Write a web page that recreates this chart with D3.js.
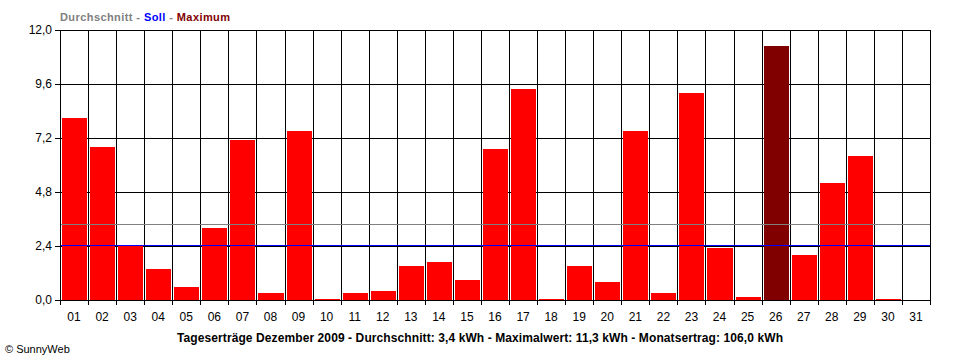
<!DOCTYPE html>
<html><head><meta charset="utf-8">
<script src="https://cdn.jsdelivr.net/npm/d3@7"></script>
<style>
html,body{margin:0;padding:0;background:#fff;}
text{font-family:"Liberation Sans",Arial,sans-serif;}
</style></head>
<body><svg id="c" width="960" height="360"></svg>
<script>
const days = ["01","02","03","04","05","06","07","08","09","10","11","12","13","14","15","16","17","18","19","20","21","22","23","24","25","26","27","28","29","30","31"];
const values = [8.1,6.8,2.4,1.4,0.6,3.2,7.1,0.3,7.5,0.04,0.3,0.4,1.5,1.7,0.9,6.7,9.4,0.05,1.5,0.8,7.5,0.3,9.2,2.3,0.13,11.3,2.0,5.2,6.4,0.05,0];
const yTicks = [0,2.4,4.8,7.2,9.6,12.0];
const average = 3.4;
const soll = 2.43;
const maximum = 11.3;
const title = "Tageserträge Dezember 2009 - Durchschnitt: 3,4 kWh - Maximalwert: 11,3 kWh - Monatsertrag: 106,0 kWh";
const legend = [["Durchschnitt","#808080"],[" - ","#808080"],["Soll","#0000ff"],[" - ","#808080"],["Maximum","#800000"]];

const svg = d3.select("#c");
const L=60, R=930, T=30, B=300;
const x = d3.scaleBand().domain(days).range([L,R]).paddingInner(0).paddingOuter(0);
const y = d3.scaleLinear().domain([0,12]).range([B,T]);
const bw = x.bandwidth();
const fmt = v => v.toFixed(1).replace(".",",");
const g = svg.append("g").attr("shape-rendering","crispEdges");

// vertical grid lines (band boundaries)
const bounds = d3.range(days.length+1).map(i => L + i*bw);
g.selectAll("line.v").data(bounds).join("line")
  .attr("x1",d=>Math.round(d)+0.5).attr("x2",d=>Math.round(d)+0.5)
  .attr("y1",T).attr("y2",B+5).attr("stroke","#000");
// horizontal grid lines
g.selectAll("line.h").data(yTicks).join("line")
  .attr("x1",L-5).attr("x2",R+1)
  .attr("y1",d=>Math.round(y(d))+0.5).attr("y2",d=>Math.round(y(d))+0.5).attr("stroke","#000");

// bars
g.selectAll("rect.bar").data(values).join("rect")
  .attr("x",(d,i)=>Math.round(x(days[i]))+2)
  .attr("width",(d,i)=>Math.round(x(days[i])+bw)-Math.round(x(days[i]))-3)
  .attr("y",d=>Math.round(y(d)))
  .attr("height",d=>B-Math.round(y(d)))
  .attr("fill",d=>d===maximum?"#800000":"#ff0000");

// average and soll lines
g.append("line").attr("x1",L+1).attr("x2",R).attr("y1",Math.round(y(average))+0.5).attr("y2",Math.round(y(average))+0.5).attr("stroke","#808080");
g.append("line").attr("x1",L+1).attr("x2",R).attr("y1",Math.round(y(soll))+0.5).attr("y2",Math.round(y(soll))+0.5).attr("stroke","#0000ff");

// y labels
svg.selectAll("text.yl").data(yTicks).join("text")
  .attr("x",52).attr("y",d=>y(d)+4).attr("text-anchor","end")
  .attr("font-size","12px").attr("fill","#000").text(fmt);
// x labels
svg.selectAll("text.xl").data(days).join("text")
  .attr("x",d=>x(d)+bw/2).attr("y",321).attr("text-anchor","middle")
  .attr("font-size","12px").attr("fill","#000").text(d=>d);

// legend
const lt = svg.append("text").attr("x",60).attr("y",21).attr("font-size","11px").attr("font-weight","bold")
  .attr("textLength",170).attr("lengthAdjust","spacing");
lt.selectAll("tspan").data(legend).join("tspan").attr("fill",d=>d[1]).text(d=>d[0]).attr("xml:space","preserve");

// title
svg.append("text").attr("x",177).attr("y",342)
  .attr("font-size","12px").attr("font-weight","bold").attr("fill","#000")
  .attr("textLength",606).attr("lengthAdjust","spacing").text(title);
// copyright
svg.append("text").attr("x",5).attr("y",353).attr("font-size","11px").attr("fill","#000").text("© SunnyWeb");
</script></body></html>
